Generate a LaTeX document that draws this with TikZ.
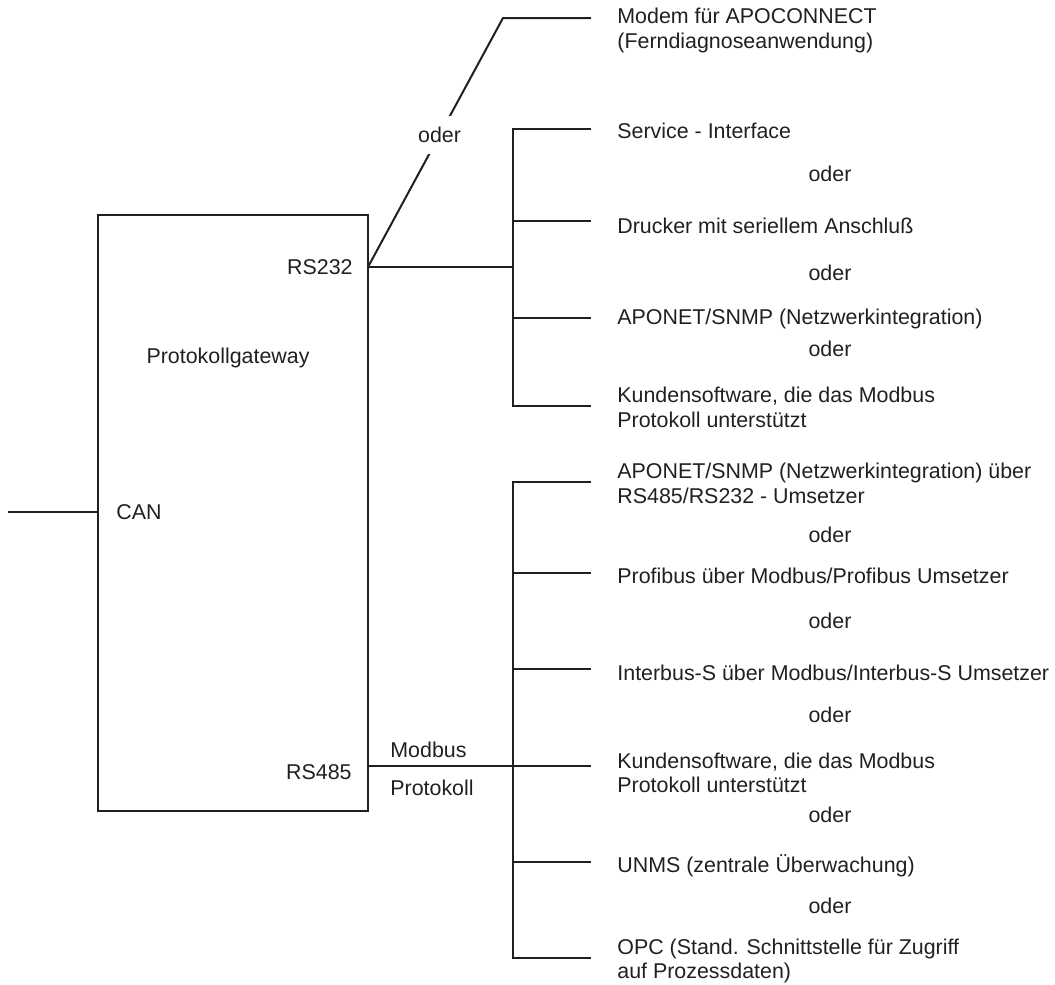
\documentclass[tikz,border=0pt]{standalone}
\usepackage{fontspec}
\setmainfont{Liberation Sans}
\usepackage{tikz}
\definecolor{ink}{HTML}{231F20}
\tikzset{
  wire/.style={draw=ink, line width=1pt},
  dev/.style={anchor=west, align=left, inner xsep=13pt, inner ysep=0pt, text=ink},
  lbl/.style={inner sep=0pt, text=ink},
  gap/.style={fill=white, inner sep=5.5pt, text=ink}
}

\begin{document}
\begin{tikzpicture}[x=0.5pt, y=-0.5pt, font=\fontsize{10.7}{12.3}\selectfont]
    \useasboundingbox (0,0) rectangle (1055,985);

    \node[wire, inner sep=0pt, minimum width=135pt, minimum height=298pt] (gw) at (233,513) {};
    \node[lbl] (name) at (228,358) {Protokollgateway};
    \node[lbl, anchor=west] (can) at (116,512) {CAN};
    \node[lbl, anchor=east] (rsa) at (353,267) {RS232};
    \node[lbl, anchor=east] (rsb) at (352,772) {RS485};
    \node[lbl, anchor=west] (modbus) at (390,750) {Modbus};
    \node[lbl, anchor=west] (prot) at (390,788) {Protokoll};

    \coordinate (canin) at (8,512);
    \coordinate (pa) at (368,267);
    \coordinate (pb) at (368,766);
    \coordinate (knee) at (503,18);

    \node[dev] (modem) at (591,30.5) {Modem für APOCONNECT\\(Ferndiagnoseanwendung)};
    \node[dev] (service) at (591,131) {Service - Interface};
    \node[dev] (drucker) at (591,226) {Drucker mit seriellem Anschluß};
    \node[dev] (aponet) at (591,319) {APONET/SNMP (Netzwerkintegration)};
    \node[dev] (kunde) at (591,407.5) {Kundensoftware, die das Modbus\\Protokoll unterstützt};

    \node[dev] (aponetb) at (591,483.5) {APONET/SNMP (Netzwerkintegration) über\\RS485/RS232 - Umsetzer};
    \node[dev] (profibus) at (591,576) {Profibus über Modbus/Profibus Umsetzer};
    \node[dev] (interbus) at (591,673) {Interbus-S über Modbus/Interbus-S Umsetzer};
    \node[dev] (kundeb) at (591,773) {Kundensoftware, die das Modbus\\Protokoll unterstützt};
    \node[dev] (unms) at (591,866) {UNMS (zentrale Überwachung)};
    \node[dev] (opc) at (591,961) {OPC (Stand. Schnittstelle für Zugriff\\auf Prozessdaten)};

    \node[lbl] (o1) at (830,174) {oder};
    \node[lbl] (o2) at (830,273) {oder};
    \node[lbl] (o3) at (830,349) {oder};
    \node[lbl] (o4) at (830,534.5) {oder};
    \node[lbl] (o5) at (830,620.5) {oder};
    \node[lbl] (o6) at (830,714.5) {oder};
    \node[lbl] (o7) at (830,814.5) {oder};
    \node[lbl] (o8) at (830,905.5) {oder};

    \coordinate (ta) at (513,129);
    \coordinate (tb) at (513,221);
    \coordinate (tc) at (513,318);
    \coordinate (td) at (513,406);
    \coordinate (ua) at (513,482);
    \coordinate (ub) at (513,573);
    \coordinate (uc) at (513,669);
    \coordinate (ud) at (513,766);
    \coordinate (ue) at (513,862);
    \coordinate (uf) at (513,958);

    \draw[wire] (canin) -- (canin -| gw.west);
    \draw[wire] (pa) -- node[gap, pos=.53] (o0) {oder} (knee) -- (knee -| modem.west);
    \draw[wire] (pa) -- (pa -| ta);
    \draw[wire] (ta -| service.west) -- (ta) -- (td) -- (td -| kunde.west);
    \draw[wire] (tb) -- (tb -| drucker.west);
    \draw[wire] (tc) -- (tc -| aponet.west);

    \draw[wire] (pb) -- (ud);
    \draw[wire] (ua -| aponetb.west) -- (ua) -- (uf) -- (uf -| opc.west);
    \draw[wire] (ub) -- (ub -| profibus.west);
    \draw[wire] (uc) -- (uc -| interbus.west);
    \draw[wire] (ud) -- (ud -| kundeb.west);
    \draw[wire] (ue) -- (ue -| unms.west);
\end{tikzpicture}
\end{document}
